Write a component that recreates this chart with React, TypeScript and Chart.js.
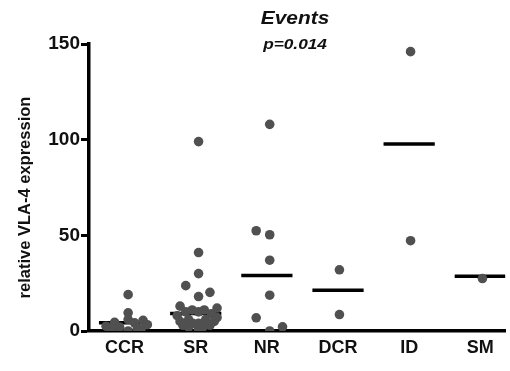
import React, { useEffect, useRef } from "react";
import { Chart, registerables } from "chart.js";

Chart.register(...registerables);

const categories = ["CCR", "SR", "NR", "DCR", "ID", "SM"];
const yTicks = [0, 50, 100, 150];

// per-group values and horizontal jitter (in category units)
const ccrValues = [19, 9.5, 6, 5.6, 4.5, 4.3, 3.3, 2.5, 2, 1.5, 1, 0.8, 0];
const ccrJitter = [0.05, 0.05, 0.05, 0.26, -0.14, 0.14, 0.32, -0.26, -0.07, 0.18, -0.18, 0.23, 0.05];
const srValues = [99, 41, 30, 23.7, 20.2, 18, 13, 12, 11, 11, 10, 10, 9, 8, 7, 6, 6, 5, 5, 4, 4, 3, 3, 2, 2, 1, 0];
const srJitter = [0.04, 0.04, 0.04, -0.14, 0.2, 0.04, -0.22, 0.3, -0.05, 0.12, -0.14, 0.04, 0.22, -0.26, 0.3, -0.1, 0.14, -0.22, 0.26, 0.04, -0.04, -0.18, 0.2, 0.1, -0.1, 0.04, 0.04];
const nrValues = [108, 52.4, 50.3, 37, 18.7, 6.9, 2.2, 0];
const nrJitter = [0.04, -0.15, 0.04, 0.04, 0.04, -0.15, 0.22, 0.04];
const dcrValues = [32, 8.6];
const dcrJitter = [0.02, 0.02];
const idValues = [146, 47.2];
const idJitter = [0.02, 0.02];
const smValues = [27.4];
const smJitter = [0.03];

const medians = [4.3, 9.1, 29, 21.3, 97.8, 28.6];

const groups = [
  { values: ccrValues, jitter: ccrJitter },
  { values: srValues, jitter: srJitter },
  { values: nrValues, jitter: nrJitter },
  { values: dcrValues, jitter: dcrJitter },
  { values: idValues, jitter: idJitter },
  { values: smValues, jitter: smJitter },
];

const titleText = "Events";
const subtitleText = "p=0.014";
const yAxisTitle = "relative VLA-4 expression";

const FONT = "'Liberation Sans', Arial, Helvetica, sans-serif";

export default function App() {
  const ref = useRef<HTMLCanvasElement | null>(null);

  useEffect(() => {
    if (!ref.current) return;
    const points: { x: number; y: number }[] = [];
    groups.forEach((g, i) => {
      g.values.forEach((v, k) => points.push({ x: i + g.jitter[k], y: v }));
    });

    const medianSets = medians.map((m, i) => ({
      type: "line" as const,
      data: [
        { x: i - 0.36, y: m },
        { x: i + 0.36, y: m },
      ],
      borderColor: "#000",
      borderWidth: 3.5,
      pointRadius: 0,
      fill: false,
    }));

    const textPlugin = {
      id: "texts",
      afterDraw(chart: any) {
        const { ctx, chartArea } = chart;
        ctx.save();
        ctx.fillStyle = "#111";
        ctx.textAlign = "center";
        ctx.textBaseline = "alphabetic";
        const cx = chartArea.left + (chartArea.right - chartArea.left) * 0.495;
        ctx.save();
        ctx.translate(cx, chartArea.top - 20);
        ctx.scale(1.1, 1);
        ctx.font = `italic bold 19px ${FONT}`;
        ctx.fillText(titleText, 0, 0);
        ctx.restore();
        ctx.save();
        ctx.translate(cx, chartArea.top + 5);
        ctx.scale(1.15, 1);
        ctx.font = `italic bold 15px ${FONT}`;
        ctx.fillText(subtitleText, 0, 0);
        ctx.restore();
        ctx.translate(25, (chartArea.top + chartArea.bottom) / 2 + 10);
        ctx.rotate(-Math.PI / 2);
        ctx.textBaseline = "middle";
        ctx.font = `bold 16.5px ${FONT}`;
        ctx.fillText(yAxisTitle, 0, 0);
        ctx.restore();
      },
    };

    const chart = new Chart(ref.current, {
      type: "scatter",
      data: {
        datasets: [
          {
            type: "scatter",
            data: points,
            backgroundColor: "#505050",
            borderColor: "#505050",
            borderWidth: 0,
            pointRadius: 4.8,
          } as any,
          ...medianSets,
        ],
      },
      options: {
        animation: false,
        responsive: false,
        events: [],
        layout: { padding: { top: 44, left: 0, right: 0, bottom: 0 } },
        plugins: {
          legend: { display: false },
          tooltip: { enabled: false },
          title: { display: false },
        },
        scales: {
          x: {
            type: "linear",
            min: -0.5,
            max: 5.35,
            afterBuildTicks: (scale: any) => {
              scale.ticks = categories.map((_, i) => ({ value: i }));
            },
            afterFit: (scale: any) => {
              scale.height = 40;
            },
            ticks: {
              callback: (v: any) => categories[Math.round(Number(v))] ?? "",
              color: "#111",
              font: { family: FONT, size: 18, weight: "bold" },
              padding: 6,
              maxRotation: 0,
              autoSkip: false,
            },
            grid: { display: false, drawTicks: false },
            border: { display: true, color: "#000", width: 3.5 },
          },
          y: {
            type: "linear",
            min: 0,
            max: 150,
            afterBuildTicks: (scale: any) => {
              scale.ticks = yTicks.map((v) => ({ value: v }));
            },
            afterFit: (scale: any) => {
              scale.width = 89;
            },
            ticks: {
              color: "#111",
              font: { family: FONT, size: 19, weight: "bold" },
              padding: 1,
            },
            grid: {
              display: true,
              drawOnChartArea: false,
              drawTicks: true,
              tickLength: 8,
              tickWidth: 3,
              tickColor: "#000",
            },
            border: { display: true, color: "#000", width: 3.5 },
          },
        },
      } as any,
      plugins: [textPlugin],
    });
    return () => chart.destroy();
  }, []);

  return (
    <div style={{ position: "fixed", left: 0, top: 0, width: 510, height: 371, background: "#fff" }}>
      <canvas ref={ref} width={510} height={371} style={{ display: "block" }} />
    </div>
  );
}
